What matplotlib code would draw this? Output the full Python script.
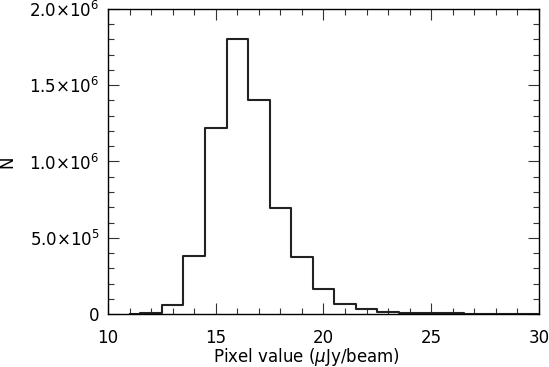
import matplotlib
matplotlib.use("Agg")
import matplotlib.pyplot as plt
from matplotlib.ticker import MultipleLocator, FuncFormatter

plt.rcParams['font.family'] = 'DejaVu Sans'
plt.rcParams['mathtext.default'] = 'regular'

# histogram bin centres (uJy/beam) and counts
pixel_value = [11, 12, 13, 14, 15, 16, 17, 18, 19, 20,
               21, 22, 23, 24, 25, 26, 27, 28, 29, 30]
counts = [300, 4000, 59000, 382000, 1218000, 1803000, 1403000, 697000, 376000, 166000,
          63000, 30000, 14000, 8000, 5000, 3500, 2500, 2000, 1500, 1000]


def sci_fmt(v, pos):
    if v == 0:
        return '0'
    exp = 0
    m = v
    while m >= 10:
        m /= 10.0
        exp += 1
    return '%.1f×10$^{%d}$' % (m, exp)


fig = plt.figure(figsize=(5.49, 3.67), dpi=100)
ax = fig.add_axes([0.1967, 0.1444, 0.7851, 0.8311])

ax.step(pixel_value, counts, where='mid', color='#222222', lw=1.5)

ax.set_xlim(10, 30)
ax.set_ylim(0, 2.0e6)
ax.xaxis.set_major_locator(MultipleLocator(5))
ax.xaxis.set_minor_locator(MultipleLocator(1))
ax.yaxis.set_major_locator(MultipleLocator(5e5))
ax.yaxis.set_minor_locator(MultipleLocator(1e5))
ax.yaxis.set_major_formatter(FuncFormatter(sci_fmt))

ax.tick_params(which='both', direction='in', top=True, right=True,
               labelsize=12, width=0.8, color='#333333')
ax.tick_params(axis='x', which='major', length=8, pad=11)
ax.tick_params(axis='y', which='major', length=8, pad=6)
ax.tick_params(which='minor', length=4)
for s in ax.spines.values():
    s.set_linewidth(1.0)

ax.set_xlabel(r'Pixel value ($\mathit{\mu}$Jy/beam)', fontsize=12, va='baseline')
ax.xaxis.set_label_coords(0.4606, -0.1587)
ax.set_ylabel('N', fontsize=12)
ax.yaxis.set_label_coords(-0.212, 0.5)

fig.savefig('out.png', dpi=100)
